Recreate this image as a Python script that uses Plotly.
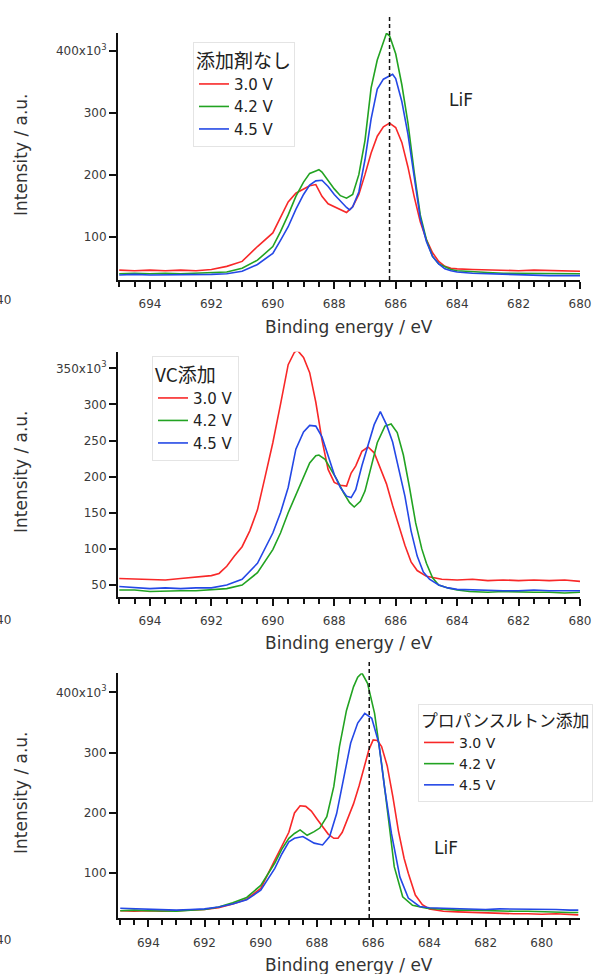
import plotly.graph_objects as go

W, H = 593, 974

# ---------------- data ----------------
series_names = ["3.0 V", "4.2 V", "4.5 V"]
colors = ["#f82828", "#22a322", "#2448e6"]

# Panel 1: 添加剤なし
p1_title = "添加剤なし"
p1_red_x = [695, 694.5, 694, 693.5, 693, 692.5, 692, 691.5, 691, 690.5, 690, 689.75, 689.5, 689.25, 689.0, 688.8,
            688.6, 688.4, 688.2, 688.0, 687.8, 687.6, 687.4, 687.2, 687.0, 686.8, 686.6, 686.4, 686.2, 686.0, 685.8,
            685.6, 685.4, 685.2, 685.0, 684.8, 684.6, 684.4, 684.2, 684.0, 683.5, 683, 682.5, 682, 681.5, 681, 680.5, 680]
p1_red_y = [46, 45, 46, 45, 46, 45, 47, 52, 60, 84, 106, 132, 156, 170, 177, 182,
            184, 165, 153, 148, 143, 139, 148, 168, 200, 235, 262, 277, 283, 276, 252,
            212, 165, 124, 95, 74, 60, 52, 49, 48, 47, 46, 46, 45, 46, 45, 45, 44]
p1_green_x = [695, 694.5, 694, 693.5, 693, 692.5, 692, 691.5, 691, 690.5, 690.0, 689.75, 689.5, 689.25, 689.0, 688.8,
              688.6, 688.5, 688.4, 688.2, 688.0, 687.8, 687.6, 687.4, 687.2, 687.0, 686.8, 686.6, 686.4, 686.3, 686.2,
              686.0, 685.8, 685.6, 685.4, 685.2, 685.0, 684.8, 684.6, 684.4, 684.2, 684.0, 683.5, 683, 682.5, 682,
              681.5, 681, 680.5, 680]
p1_green_y = [40, 41, 40, 41, 40, 41, 41, 43, 49, 62, 84, 108, 135, 165, 188, 202,
              206, 208, 204, 191, 177, 166, 162, 168, 200, 255, 340, 385, 415, 428, 424,
              395, 345, 283, 205, 135, 95, 68, 56, 51, 47, 45, 43, 42, 41, 41,
              40, 40, 40, 40]
p1_blue_x = [695, 694.5, 694, 693.5, 693, 692.5, 692, 691.5, 691, 690.5, 690, 689.75, 689.5, 689.25, 689.0, 688.8,
             688.6, 688.4, 688.2, 688.0, 687.8, 687.6, 687.5, 687.4, 687.2, 687.0, 686.8, 686.6, 686.4, 686.2, 686.1,
             686.0, 685.8, 685.6, 685.4, 685.2, 685.0, 684.8, 684.6, 684.4, 684.2, 684.0, 683.5, 683, 682.5, 682,
             681.5, 681, 680.5, 680]
p1_blue_y = [38, 39, 38, 38, 39, 38, 39, 40, 44, 55, 73, 94, 116, 144, 168, 183,
             190, 191, 181, 168, 157, 147, 143, 148, 172, 224, 290, 338, 354, 360, 362,
             355, 318, 265, 195, 130, 92, 68, 56, 48, 45, 43, 41, 40, 39, 38,
             38, 37, 37, 37]

# Panel 2: VC添加
p2_title = "VC添加"
p2_red_x = [695, 694.5, 694, 693.5, 693, 692.5, 692, 691.75, 691.5, 691.25, 691, 690.75, 690.5, 690.25, 690, 689.75,
            689.5, 689.3, 689.2, 689.0, 688.8, 688.6, 688.4, 688.2, 688.0, 687.8, 687.6, 687.45, 687.3, 687.1, 686.9,
            686.7, 686.5, 686.3, 686.1, 685.9, 685.7, 685.5, 685.3, 685.0, 684.7, 684.5, 684, 683.5, 683, 682.5, 682,
            681.5, 681, 680.5, 680]
p2_red_y = [59, 58, 57, 57, 59, 61, 63, 66, 76, 90, 103, 125, 154, 200, 247, 300,
            355, 372, 375, 365, 344, 303, 251, 210, 192, 188, 187, 205, 215, 235, 241,
            233, 212, 190, 160, 131, 105, 82, 70, 62, 59, 58, 57, 58, 56, 57, 56,
            57, 56, 57, 55]
p2_green_x = [695, 694.5, 694, 693.5, 693, 692.5, 692, 691.5, 691, 690.5, 690, 689.75, 689.5, 689.25, 689.0, 688.8,
              688.6, 688.5, 688.3, 688.1, 687.9, 687.7, 687.5, 687.35, 687.15, 687.0, 686.85, 686.6, 686.35, 686.15,
              685.95, 685.75, 685.55, 685.35, 685.15, 685.0, 684.8, 684.6, 684.3, 684.0, 683.6, 683, 682.5, 682,
              681.5, 681, 680.5, 680]
p2_green_y = [43, 43, 41, 42, 42, 42, 43, 45, 50, 67, 99, 122, 150, 175, 200, 219,
              229, 230, 224, 210, 195, 178, 164, 158, 166, 180, 205, 247, 270, 273,
              261, 230, 185, 136, 100, 80, 60, 50, 46, 43, 41, 40, 41, 40,
              40, 40, 39, 40]
p2_blue_x = [695, 694.5, 694, 693.5, 693, 692.5, 692, 691.5, 691, 690.5, 690, 689.75, 689.5, 689.25, 689.0, 688.8,
             688.6, 688.4, 688.2, 688.0, 687.8, 687.6, 687.45, 687.3, 687.1, 686.9, 686.7, 686.5, 686.3, 686.1,
             685.9, 685.7, 685.5, 685.3, 685.1, 684.9, 684.6, 684.3, 684.0, 683.5, 683, 682.5, 682, 681.5, 681,
             680.5, 680]
p2_blue_y = [48, 46, 45, 46, 45, 46, 46, 50, 58, 80, 122, 150, 185, 238, 262, 271,
             270, 255, 228, 203, 185, 173, 171, 182, 215, 245, 272, 290, 272, 248,
             210, 173, 125, 90, 68, 58, 50, 46, 44, 43, 42, 42, 42, 43, 42,
             42, 42]

# Panel 3: プロパンスルトン添加
p3_title = "プロパンスルトン添加"
p3_red_x = [695, 694.5, 694, 693.5, 693, 692.5, 692, 691.5, 691, 690.5, 690.0, 689.5, 689.25, 689.0, 688.8, 688.6,
            688.4, 688.2, 688.0, 687.8, 687.6, 687.4, 687.25, 687.1, 686.9, 686.7, 686.5, 686.3, 686.15, 686.0,
            685.85, 685.7, 685.5, 685.3, 685.1, 684.9, 684.75, 684.5, 684.25, 684.0, 683.5, 683, 682.5, 682, 681.5,
            681, 680.5, 680, 679.5, 679, 678.7]
p3_red_y = [38, 37, 38, 37, 38, 39, 40, 43, 49, 57, 75, 122, 145, 168, 200, 212,
            211, 203, 190, 177, 165, 158, 158, 168, 190, 215, 245, 280, 305, 321,
            320, 310, 278, 227, 170, 125, 100, 64, 48, 41, 37, 36, 35, 34, 34,
            33, 33, 32, 33, 32, 31]
p3_green_x = [695, 694.5, 694, 693.5, 693, 692.5, 692, 691.5, 691, 690.5, 690, 689.5, 689.25, 689.0, 688.8, 688.6,
              688.35, 688.1, 687.9, 687.65, 687.4, 687.2, 686.95, 686.7, 686.55, 686.4, 686.2, 685.95, 685.7, 685.45,
              685.25, 684.95, 684.6, 684.1, 683.5, 683, 682.5, 682, 681.5, 681, 680.5, 680, 679.5, 679, 678.7]
p3_green_y = [38, 39, 38, 38, 37, 39, 40, 44, 51, 60, 80, 117, 140, 158, 166, 172,
              163, 169, 175, 194, 244, 310, 370, 409, 425, 432, 415, 365, 282, 188,
              111, 61, 47, 42, 40, 39, 39, 38, 38, 37, 37, 36, 36, 35, 35]
p3_blue_x = [695, 694.5, 694, 693.5, 693, 692.5, 692, 691.5, 691, 690.5, 690, 689.5, 689.25, 689.0, 688.8, 688.5,
             688.1, 687.8, 687.55, 687.3, 687.05, 686.8, 686.55, 686.3, 686.05, 685.8, 685.6, 685.35, 685.05,
             684.75, 684.35, 684.0, 683.5, 683, 682.5, 682, 681.5, 681, 680.5, 680, 679.5, 679, 678.7]
p3_blue_y = [42, 41, 41, 40, 39, 40, 41, 44, 49, 56, 72, 108, 132, 152, 158, 161,
             150, 147, 161, 199, 260, 316, 349, 365, 357, 316, 244, 166, 94,
             59, 45, 43, 42, 41, 41, 40, 41, 41, 40, 40, 40, 39, 39]

x_tick0 = 680
x_dtick = 2
x_minor_dtick = 0.5
y1_tickvals = [100, 200, 300, 400]
y1_ticktext = ["100", "200", "300", "400x10<sup>3</sup>"]
y2_tickvals = [50, 100, 150, 200, 250, 300, 350]
y2_ticktext = ["50", "100", "150", "200", "250", "300", "350x10<sup>3</sup>"]
y3_tickvals = [100, 200, 300, 400]
y3_ticktext = ["100", "200", "300", "400x10<sup>3</sup>"]

x_title = "Binding energy / eV"
y_title = "Intensity / a.u."
lif_label = "LiF"
lif_line_1 = 686.2
lif_line_3 = 686.14

# ---------------- layout helpers ----------------
def px_x(p):
    return p / W

def px_y(p):
    return 1 - p / H

panels = [
    dict(top=33, bottom=280, yr=[30, 428.5], xr=[695.04, 680]),
    dict(top=351.7, bottom=596.7, yr=[33.8, 373], xr=[695.04, 680]),
    dict(top=673.3, bottom=918.3, yr=[25.4, 431.5], xr=[695.08, 678.64]),
]
XL, XR = 118, 580

JP = "Noto Sans CJK JP"
WIDE = "DejaVu Sans"
TICKFONT = dict(family=WIDE, size=12, color="#3a3a3a")
TITLEFONT = dict(family=WIDE, size=17, color="#333333")

fig = go.Figure()

data_sets = [
    (p1_title, [(p1_red_x, p1_red_y), (p1_green_x, p1_green_y), (p1_blue_x, p1_blue_y)]),
    (p2_title, [(p2_red_x, p2_red_y), (p2_green_x, p2_green_y), (p2_blue_x, p2_blue_y)]),
    (p3_title, [(p3_red_x, p3_red_y), (p3_green_x, p3_green_y), (p3_blue_x, p3_blue_y)]),
]
legend_keys = ["legend", "legend2", "legend3"]

for i, (title, ser) in enumerate(data_sets):
    ax = "" if i == 0 else str(i + 1)
    for j, (xs, ys) in enumerate(ser):
        fig.add_trace(go.Scatter(
            x=xs, y=ys, mode="lines", name=series_names[j],
            line=dict(color=colors[j], width=1.6),
            xaxis="x" + ax, yaxis="y" + ax,
            legend=legend_keys[i], showlegend=True,
        ))

yticks = [(y1_tickvals, y1_ticktext), (y2_tickvals, y2_ticktext), (y3_tickvals, y3_ticktext)]
layout = dict(
    width=W, height=H,
    margin=dict(l=0, r=0, t=0, b=0, autoexpand=False),
    paper_bgcolor="white", plot_bgcolor="white",
    showlegend=True,
)
for i, p in enumerate(panels):
    ax = "" if i == 0 else str(i + 1)
    layout["xaxis" + ax] = dict(
        domain=[px_x(XL), px_x(XR)], range=p["xr"], anchor="y" + ax,
        tickmode="linear", tick0=x_tick0, dtick=x_dtick,
        ticks="outside", ticklen=7, tickwidth=1.5, tickcolor="#111",
        minor=dict(dtick=x_minor_dtick, tick0=x_tick0, ticks="outside", ticklen=5, tickwidth=1.5,
                   tickcolor="#111", showgrid=False),
        ticklabelstandoff=5,
        showline=True, linecolor="#111", linewidth=2,
        showgrid=False, zeroline=False, tickfont=TICKFONT, automargin=False,
    )
    layout["yaxis" + ax] = dict(
        domain=[px_y(p["bottom"]), px_y(p["top"])], range=p["yr"], anchor="x" + ax,
        tickmode="array", tickvals=yticks[i][0], ticktext=yticks[i][1],
        ticks="outside", ticklen=7, tickwidth=1.5, tickcolor="#111",
        showline=True, linecolor="#111", linewidth=2,
        showgrid=False, zeroline=False, tickfont=TICKFONT, automargin=False,
    )

leg_pos = [(193, 42), (152, 356), (418, 704)]
leg_title_size = [19, 19, 16.8]
leg_item_size = [15, 15, 14]
for i, key in enumerate(legend_keys):
    layout[key] = dict(
        x=px_x(leg_pos[i][0]), y=px_y(leg_pos[i][1]), xanchor="left", yanchor="top",
        title=dict(text=data_sets[i][0], font=dict(family=JP, size=leg_title_size[i], color="#222")),
        font=dict(family=WIDE, size=leg_item_size[i], color="#222"),
        bgcolor="white", bordercolor="#e4e4e4", borderwidth=1,
        itemclick=False, tracegroupgap=0,
    )

annotations = []
xt_y = [327, 643, 965]
yt_y = [155, 472, 793]
clip_y = [300, 620, 940]
for i in range(3):
    annotations.append(dict(text=x_title, x=px_x((XL + XR) / 2), y=px_y(xt_y[i]), xref="paper", yref="paper",
                            showarrow=False, font=TITLEFONT, xanchor="center", yanchor="middle"))
    annotations.append(dict(text=y_title, x=px_x(21), y=px_y(yt_y[i]), xref="paper", yref="paper",
                            showarrow=False, textangle=-90, font=TITLEFONT,
                            xanchor="center", yanchor="middle"))
    annotations.append(dict(text="40", x=px_x(13), y=px_y(clip_y[i]), xref="paper", yref="paper",
                            showarrow=False, font=TICKFONT, xanchor="right", yanchor="middle"))
annotations.append(dict(text=lif_label, x=px_x(461), y=px_y(100), xref="paper", yref="paper",
                        showarrow=False, font=dict(family=WIDE, size=17, color="#222"),
                        xanchor="center", yanchor="middle"))
annotations.append(dict(text=lif_label, x=px_x(446), y=px_y(848), xref="paper", yref="paper",
                        showarrow=False, font=dict(family=WIDE, size=17, color="#222"),
                        xanchor="center", yanchor="middle"))
layout["annotations"] = annotations

layout["shapes"] = [
    dict(type="line", xref="x", yref="paper", x0=lif_line_1, x1=lif_line_1,
         y0=px_y(280), y1=px_y(17), line=dict(color="#111", width=1.5, dash="4px,3px")),
    dict(type="line", xref="x3", yref="paper", x0=lif_line_3, x1=lif_line_3,
         y0=px_y(918), y1=px_y(662), line=dict(color="#111", width=1.5, dash="4px,3px")),
]

fig.update_layout(**layout)
fig.write_html("out.html")
